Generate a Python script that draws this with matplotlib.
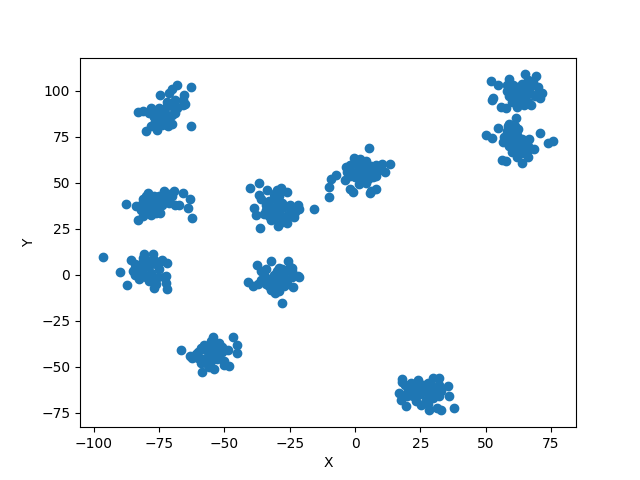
import matplotlib
matplotlib.use("Agg")
import matplotlib.pyplot as plt

cluster_a = [(-68.3,103),(-62.8,102),(-74.8,97.8),(-62.9,80.8),(-80.1,78),(-75.9,78.6),(-71,99),(-70,101),(-65.5,98),(-66,95),(-65,93),(-66,92.5),(-69,95),(-72,94),(-73,90),(-75,91),(-78,91),(-81,89),(-83,88.5),(-79,88),(-76,88),(-74,87),(-72,87),(-70,87),(-69,88),(-71,85),(-73,83),(-76,84),(-78,81),(-77,82),(-74,81.5),(-71.5,81),(-70,82),(-75,86),(-72,92),(-70,92),(-77,86),(-68,91),(-73,85)]
cluster_b = [(-87.8,38.4),(-83.2,29.7),(-62.5,30.8),(-63.1,41.1),(-64,36.2),(-83.8,37.5),(-66,44.6),(-69.3,45.8),(-73.2,45.8),(-67.2,38),(-69,38),(-74.5,33.5),(-79.4,44.4),(-80,43),(-81,41),(-79,42),(-77,43),(-75,43),(-73,42),(-71,44),(-76,41),(-78,39),(-80,37),(-82,35),(-80,33.5),(-78,34),(-76,36),(-74,38),(-77,37),(-79,35),(-81,32),(-78,32.5),(-75,39),(-72,40),(-71,39),(-70,43),(-82,38),(-76,33.5)]
cluster_c = [(-96.6,9.6),(-90,1.5),(-87.3,-5.6),(-85.9,8),(-80.6,11.4),(-77.3,11.4),(-72,6.3),(-74.3,7.8),(-72.3,-0.5),(-72.3,-4.5),(-72,-7.8),(-77,-7.3),(-82.8,-2.3),(-78.7,-3.6),(-75.3,-0.9),(-84,4),(-85,2),(-84,0),(-82,6),(-80,8),(-81,3),(-79,5),(-78,1),(-80,-1),(-82,1),(-83,3),(-77,8),(-76,6),(-75,3),(-78,-1),(-74,8),(-79,-2),(-81,9),(-84,6),(-76,-5),(-73,-1)]
cluster_d = [(-32.3,7.8),(-25.7,7.8),(-37.6,5.4),(-28,-15.4),(-40.8,-3.8),(-39.1,-6),(-21.5,-0.9),(-23.8,-6.7),(-30.8,-10),(-29,-9),(-25,4.5),(-24,2),(-36,2),(-35,0),(-33,-2),(-36,-3),(-31,-4),(-34,-5),(-29,-2),(-30,2),(-31,0),(-28,3),(-27,1),(-26,-3),(-24,-1),(-27,-6),(-30,-7),(-32,-8),(-28,-5),(-22,-0.5),(-33,-6),(-37,-5),(-34,3),(-29,4),(-26,-5),(-24,4)]
cluster_e = [(-66.4,-41),(-46.8,-33.9),(-45.1,-38.2),(-45.1,-42.6),(-54.5,-33.9),(-58.7,-52.9),(-54.1,-51.4),(-48.4,-49.6),(-50,-49),(-63.2,-44),(-62.2,-45),(-48.7,-41.1),(-57.7,-38),(-52,-37),(-60,-42),(-59,-40),(-57,-41),(-55,-39),(-53,-40),(-51,-42),(-54,-43),(-56,-44),(-58,-46),(-60,-45),(-55,-47),(-53,-46),(-57,-48),(-52,-45),(-59,-48),(-56,-50),(-51,-39),(-55,-36),(-50,-47),(-61,-43)]
cluster_f = [(-40.3,47.1),(-36.9,49.8),(-38.8,36.2),(-37.9,32.6),(-36.5,25.4),(-29.3,26.3),(-15.8,35.7),(-21.3,35.7),(-21.9,38),(-23.2,31.3),(-26.1,28.1),(-26.1,44.9),(-28.5,47.1),(-33.8,46.2),(-36.6,43.5),(-36,41),(-32.1,29.9),(-25.7,32.6),(-30,46),(-33,40),(-31,42),(-29,43),(-28,39),(-30,38),(-32,36),(-34,35),(-29,35),(-27,37),(-25,38),(-24,36),(-30,33),(-28,32),(-33,32),(-35,33),(-31,31),(-28,29),(-31,44),(-34,38),(-23,34)]
cluster_g = [(5.3,68.9),(13.3,60.2),(11.3,56.1),(10.4,60.3),(-0.5,63.8),(-3.4,58.5),(-4,51.6),(-7.2,54.3),(-9.1,52),(-10,48),(-10,42.4),(-2.1,46.7),(-0.8,44.9),(5.6,44.4),(8.1,46.6),(6,45.5),(1.7,49.5),(4,50),(0,62),(2,63),(4,62),(-2,60),(1,59),(3,58),(6,59),(8,60),(-1,56),(1,56),(4,55),(6,56),(8,54),(9,57),(-2,54),(0,53),(2,53),(5,52),(-3,56),(3,61),(7,53)]
cluster_h = [(65.1,109),(69.3,108.2),(58.9,106.5),(52,105.3),(54.7,103.3),(52.6,96),(52.2,95),(55.7,91.1),(57.9,90.6),(61.8,91.1),(71.5,99),(70.7,96),(67.5,92.4),(64.8,92.4),(59,97),(58,100),(60.5,103),(62,102),(64,104),(66,101),(68,103),(70,102),(63,98),(65,96),(67,99),(61,95),(60,100),(69,97),(63,94),(66,94),(58,103),(66,106),(68,105),(62,100),(64,100),(60,94),(70,99),(61,97)]
cluster_i = [(61.6,85.2),(54.5,79.7),(50,75.9),(52.5,74.6),(70.8,77),(73.9,71.6),(75.9,72.6),(68.5,68.3),(66.2,64),(63.9,60.7),(61.8,64),(56.2,62.5),(57.9,61.8),(66.5,74),(58.5,81),(62.5,79.5),(56.5,72),(60,78),(58,76),(62,76),(64,74),(60,74),(58,73),(62,72),(65,71),(59,70),(61,69),(63,68),(60,67),(66,68),(62,65),(64,66),(58,78),(59,82),(57,75),(66,70),(61,81)]
cluster_j = [(17.9,-56.5),(17,-64.1),(17.4,-68.3),(19.3,-71.2),(21.5,-58.9),(24.1,-57.4),(29.8,-56.2),(32,-56.2),(35.6,-60.7),(35.8,-66.1),(37.9,-72.4),(32.8,-73.4),(31.2,-72.4),(28.2,-73.7),(25.3,-70.5),(23.4,-68.6),(22,-62),(24,-61),(26,-60),(28,-59),(30,-61),(32,-60),(27,-63),(29,-65),(25,-65),(22,-66),(31,-64),(33,-63),(27,-68),(30,-67),(28,-70),(20,-64),(32,-66),(24,-63),(19,-60),(20,-66),(18,-58)]

clusters = [cluster_a, cluster_b, cluster_c, cluster_d, cluster_e,
            cluster_f, cluster_g, cluster_h, cluster_i, cluster_j]
x = [p[0] for c in clusters for p in c]
y = [p[1] for c in clusters for p in c]

fig, ax = plt.subplots(figsize=(6.4, 4.8), dpi=100)
ax.scatter(x, y)
ax.set_xlabel("X")
ax.set_ylabel("Y")
fig.savefig("out.png")
